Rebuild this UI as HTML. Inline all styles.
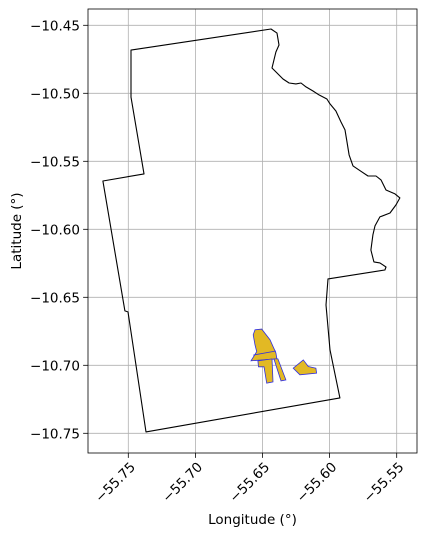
<!DOCTYPE html>
<html><head><meta charset="utf-8"><style>
html,body{margin:0;padding:0;background:#fff;}
svg{display:block;font-family:"DejaVu Sans","Liberation Sans",sans-serif;}
</style></head><body>
<svg id="chart" width="427" height="536" viewBox="0 0 427 536" xmlns="http://www.w3.org/2000/svg"></svg>
<script>
const xTicks=[-55.75,-55.70,-55.65,-55.60,-55.55];
const xTickLabels=["\u221255.75","\u221255.70","\u221255.65","\u221255.60","\u221255.55"];
const yTicks=[-10.45,-10.50,-10.55,-10.60,-10.65,-10.70,-10.75];
const yTickLabels=["\u221210.45","\u221210.50","\u221210.55","\u221210.60","\u221210.65","\u221210.70","\u221210.75"];
const boundaryLon=[-55.7480,-55.6437,-55.6392,-55.6377,-55.6400,-55.6429,-55.6400,-55.6347,-55.6302,-55.6251,-55.6213,-55.6176,-55.6124,-55.6079,-55.6020,-55.5997,-55.5953,-55.5915,-55.5885,-55.5870,-55.5855,-55.5826,-55.5759,-55.5714,-55.5654,-55.5617,-55.5580,-55.5513,-55.5476,-55.5506,-55.5550,-55.5625,-55.5662,-55.5677,-55.5692,-55.5670,-55.5625,-55.5580,-55.5588,-55.6012,-55.6027,-55.5997,-55.5923,-55.7368,-55.7502,-55.7525,-55.7689,-55.7383,-55.7480];
const boundaryLat=[-10.4682,-10.4527,-10.4557,-10.4645,-10.4696,-10.4814,-10.4843,-10.4895,-10.4924,-10.4931,-10.4924,-10.4953,-10.4983,-10.5012,-10.5042,-10.5078,-10.5130,-10.5211,-10.5269,-10.5358,-10.5453,-10.5534,-10.5578,-10.5608,-10.5608,-10.5637,-10.5711,-10.5740,-10.5769,-10.5821,-10.5880,-10.5909,-10.5975,-10.6041,-10.6152,-10.6240,-10.6247,-10.6277,-10.6299,-10.6365,-10.6556,-10.6887,-10.7240,-10.7490,-10.6607,-10.6600,-10.5645,-10.5593,-10.5028];
const fieldTopLon=[-55.6556,-55.6506,-55.6444,-55.6400,-55.6393,-55.6586,-55.6543,-55.6556,-55.6569];
const fieldTopLat=[-10.6739,-10.6734,-10.6812,-10.6909,-10.6953,-10.6967,-10.6899,-10.6850,-10.6776];
const fieldLeftLon=[-55.6534,-55.6429,-55.6422,-55.6469,-55.6489,-55.6530];
const fieldLeftLat=[-10.6967,-10.6953,-10.7122,-10.7131,-10.7011,-10.7011];
const fieldRightLon=[-55.6415,-55.6385,-55.6326,-55.6362];
const fieldRightLat=[-10.6953,-10.6953,-10.7107,-10.7115];
const fieldBLon=[-55.6271,-55.6196,-55.6159,-55.6102,-55.6097,-55.6221];
const fieldBLat=[-10.7021,-10.6960,-10.7009,-10.7021,-10.7058,-10.7070];
const stripeLon=[-55.6569,-55.6400];
const stripeLat=[-10.6925,-10.6895];

const L=88,R=417,T=9,B=453;
const xs=v=>128.3+(v+55.75)/0.05*67.1;
const ys=v=>25.3+(-10.45-v)/0.05*68.0;
const svg=document.getElementById('chart');
const NS='http://www.w3.org/2000/svg';
function mk(tag,attrs,parent){const e=document.createElementNS(NS,tag);for(const k in attrs)e.setAttribute(k,attrs[k]);(parent||svg).appendChild(e);return e;}

xTicks.forEach((v,i)=>{
  const x=xs(v);
  const g=mk('line',{x1:x,x2:x,y1:T,y2:B,stroke:'#b0b0b0','stroke-width':0.8});
  
  
  const t=mk('line',{x1:x,x2:x,y1:B,y2:B+4.9,stroke:'#000','stroke-width':0.8});
  
  
  const ax=x+5, ay=B+12;
  const lb=mk('text',{x:ax,y:ay,'text-anchor':'end','font-size':13.5,transform:`rotate(-45 ${ax} ${ay})`,'dominant-baseline':'middle'});
  lb.textContent=xTickLabels[i];
  
  
});
yTicks.forEach((v,i)=>{
  const y=ys(v);
  const g=mk('line',{x1:L,x2:R,y1:y,y2:y,stroke:'#b0b0b0','stroke-width':0.8});
  
  
  const t=mk('line',{x1:L-4.9,x2:L,y1:y,y2:y,stroke:'#000','stroke-width':0.8});
  
  
  const lb=mk('text',{x:L-8,y:y+5,'text-anchor':'end','font-size':13.5});
  lb.textContent=yTickLabels[i];
  
  
});
function pts(lo,la){return lo.map((v,i)=>xs(v).toFixed(1)+','+ys(la[i]).toFixed(1)).join(' ');}
const bd=mk('polygon',{points:pts(boundaryLon,boundaryLat),fill:'none',stroke:'#000','stroke-width':1.1,'stroke-linejoin':'round'});


[[fieldTopLon,fieldTopLat,'field-polygon-top'],[fieldLeftLon,fieldLeftLat,'field-polygon-left-leg'],[fieldRightLon,fieldRightLat,'field-polygon-right-leg'],[fieldBLon,fieldBLat,'field-polygon-small']].forEach(f=>{
  const p=mk('polygon',{points:pts(f[0],f[1]),fill:'#e2b924',stroke:'#3030e0','stroke-width':0.8});
  
  
});
const st=mk('polyline',{points:pts(stripeLon,stripeLat),fill:'none',stroke:'#3030e0','stroke-width':0.8});


const fr=mk('rect',{x:L,y:T,width:R-L,height:B-T,fill:'none',stroke:'#000','stroke-width':0.8});


const xl=mk('text',{x:(L+R)/2,y:524,'text-anchor':'middle','font-size':13.5});
xl.textContent='Longitude (°)';


const yl=mk('text',{x:21,y:(T+B)/2,'text-anchor':'middle','font-size':13.5,transform:`rotate(-90 21 ${(T+B)/2})`});
yl.textContent='Latitude (°)';


</script>
</body></html>
